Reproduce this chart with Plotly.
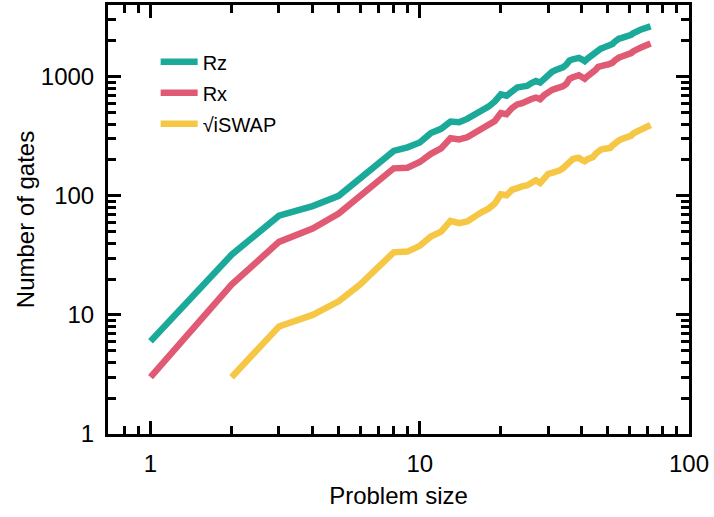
import plotly.graph_objects as go

sizes = list(range(1, 73))
rz = [6, 32, 68, 82, 100, 140, 188, 238, 255, 280, 337, 365, 420, 414, 442, 480, 510, 560, 620, 710,
      692, 760, 812, 825, 836, 885, 920, 892, 960, 1060, 1100, 1136, 1160, 1200, 1260, 1370, 1400, 1425, 1440, 1400,
      1352, 1420, 1490, 1535, 1620, 1700, 1720, 1750, 1770, 1790, 1805, 1880, 1970, 2060, 2090, 2110, 2130, 2150, 2170, 2185,
      2250, 2310, 2380, 2410, 2440, 2480, 2510, 2540, 2570, 2600, 2625, 2645]
rx = [3, 18, 41, 53, 71, 99, 131, 170, 172, 192, 225, 250, 304, 297, 310, 340, 362, 390, 425, 495,
      485, 545, 585, 600, 615, 650, 668, 648, 700, 750, 775, 794, 810, 830, 870, 960, 990, 1010, 1026, 995,
      962, 1010, 1050, 1080, 1140, 1210, 1235, 1250, 1258, 1264, 1267, 1310, 1370, 1430, 1450, 1470, 1490, 1505, 1520, 1535,
      1580, 1630, 1680, 1705, 1720, 1750, 1780, 1810, 1835, 1860, 1880, 1896]
sizes_iswap = list(range(2, 73))
iswap = [3, 8, 10, 13, 18, 25, 33.5, 34, 38, 45.5, 50, 61.5, 59, 61, 68, 73, 78, 86, 103,
         101, 112, 118, 120, 122, 130, 135, 128, 140, 153, 156, 158, 163, 170, 180, 198, 203, 207, 208, 200,
         195, 203, 208, 212, 225, 240, 244, 247, 249, 250, 252, 265, 278, 286, 292, 298, 302, 305, 308, 310,
         320, 333, 343, 347, 352, 358, 364, 370, 376, 382, 388, 393]

names = ["Rz", "Rx", "\u221AiSWAP"]
colors = ["#1BAA9A", "#E05A73", "#F6C744"]

x_major = [1, 10, 100]
x_minor = [0.7, 0.8, 0.9] + [d * 10 ** k for k in (0, 1) for d in range(2, 10)]
y_major = [1, 10, 100, 1000]
y_minor = [d * 10 ** k for k in (0, 1, 2) for d in range(2, 10)] + [2000, 3000]

FONT = "Liberation Sans, Arial, Helvetica, sans-serif"

fig = go.Figure()
for xs, ys, nm, c in [(sizes, rz, names[0], colors[0]),
                      (sizes, rx, names[1], colors[1]),
                      (sizes_iswap, iswap, names[2], colors[2])]:
    fig.add_trace(go.Scatter(x=xs, y=ys, name=nm, mode="lines", legendgroup=nm,
                             line=dict(color=c, width=6.5)))

axis_common = dict(
    type="log", showgrid=False, zeroline=False,
    showline=True, linecolor="black", linewidth=3, mirror="allticks",
    ticks="inside", ticklen=13, tickwidth=2.5, tickcolor="black",
    tickfont=dict(family=FONT, size=24, color="black"),
    ticklabelstandoff=6,
)

fig.update_xaxes(**axis_common, range=[-0.158, 2.0], tickvals=x_major, ticktext=["1", "10", "100"],
                 minor=dict(tickvals=x_minor, ticks="inside", ticklen=8, tickwidth=2.5, tickcolor="black"),
                 title=dict(text="Problem size", font=dict(family=FONT, size=24, color="black"), standoff=12))
fig.update_yaxes(**axis_common, range=[0, 3.602], tickvals=y_major, ticktext=["1", "10", "100", "1000"],
                 minor=dict(tickvals=y_minor, ticks="inside", ticklen=8, tickwidth=2.5, tickcolor="black"),
                 title=dict(text="Number of gates", font=dict(family=FONT, size=24, color="black"), standoff=0))

fig.update_layout(
    width=714, height=517,
    margin=dict(l=108, r=25, t=2, b=83),
    paper_bgcolor="white", plot_bgcolor="white",
    showlegend=True,
    legend=dict(x=0.082, y=0.913, xanchor="left", yanchor="top", bgcolor="rgba(0,0,0,0)",
                font=dict(family=FONT, size=20, color="black"), tracegroupgap=2,
                itemwidth=37),
)

fig.write_html("out.html")
